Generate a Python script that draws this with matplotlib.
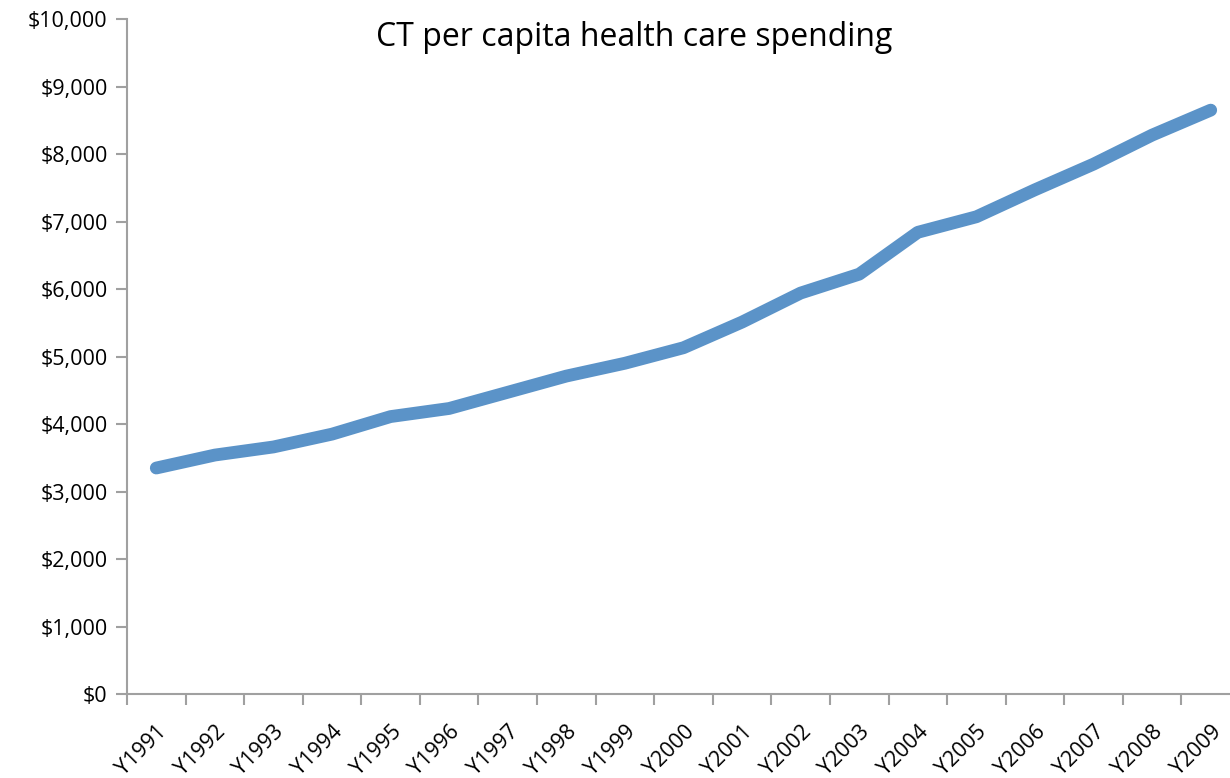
import numpy as np
import matplotlib.pyplot as plt
from matplotlib.ticker import FuncFormatter

# CT per capita health care spending
years = ['Y1991', 'Y1992', 'Y1993', 'Y1994', 'Y1995', 'Y1996', 'Y1997',
         'Y1998', 'Y1999', 'Y2000', 'Y2001', 'Y2002', 'Y2003', 'Y2004',
         'Y2005', 'Y2006', 'Y2007', 'Y2008', 'Y2009']
spending = [3348, 3540, 3660, 3850, 4110, 4230, 4470, 4710, 4900, 5130,
            5510, 5940, 6220, 6840, 7070, 7470, 7850, 8280, 8650]

plt.rcParams['font.family'] = ['Open Sans', 'DejaVu Sans']

fig = plt.figure(figsize=(12.3, 7.78), dpi=100)
ax = fig.add_axes([127 / 1230, 1 - 694 / 778, 1113 / 1230, 675 / 778])

x = np.arange(len(years))
ax.plot(x, spending, color='#5B93C8', lw=9.2, solid_capstyle='round',
        solid_joinstyle='round')

ax.set_xlim(-0.5, len(years) - 0.5)
ax.set_ylim(0, 10000)
ax.set_yticks(np.arange(0, 10001, 1000))
ax.yaxis.set_major_formatter(FuncFormatter(lambda v, p: '${:,.0f}'.format(v)))

# ticks at category edges, labels at centres
ax.set_xticks(np.arange(len(years) + 1) - 0.5)
ax.set_xticklabels([])
ax.set_xticks(x, minor=True)
ax.set_xticklabels(years, minor=True, rotation=45, ha='right',
                   rotation_mode='anchor', fontsize=15.5)
ax.tick_params(axis='x', which='minor', length=0, pad=20)
ax.tick_params(axis='x', which='major', length=8, width=1.5, color='#A0A0A0')
ax.tick_params(axis='y', length=8, width=1.5, color='#A0A0A0', labelsize=15.5,
               pad=6)

for side in ['top', 'right']:
    ax.spines[side].set_visible(False)
for side in ['left', 'bottom']:
    ax.spines[side].set_color('#A0A0A0')
    ax.spines[side].set_linewidth(1.5)

fig.text(634 / 1230, 1 - 38 / 778, 'CT per capita health care spending',
         ha='center', va='center', fontsize=23)

fig.savefig('out.png', dpi=100)
